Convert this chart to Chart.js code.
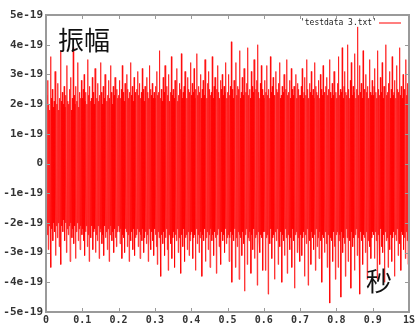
<!DOCTYPE html>
<html>
<head>
<meta charset="utf-8">
<script src="https://cdn.jsdelivr.net/npm/chart.js@4/dist/chart.umd.min.js"></script>
<style>
html, body { margin: 0; padding: 0; background: #fff; overflow: hidden; }
#wrap { position: relative; width: 418px; height: 324px; }
.lbl { position: absolute; font-family: "Noto Sans CJK SC"; font-size: 26px; color: #111; line-height: 1; }
</style>
</head>
<body>
<div id="wrap">
  <canvas id="myChart" width="418" height="324"></canvas>
  <div class="lbl" style="left:58px;top:26px">振幅</div>
  <div class="lbl" style="left:366px;top:267px">秒</div>
</div>
<script>
var seriesName = "'testdata 3.txt'";
var upper = [
  1.9,2.3,2.8,2.0,1.8,3.6,2.2,2.5,1.9,2.1,3.1,2.4,2.0,2.7,1.8,2.2,3.8,2.1,2.4,2.0,
  2.6,1.9,2.3,3.3,2.1,2.0,2.5,2.9,1.8,2.2,3.9,2.3,2.0,2.6,2.1,3.4,1.9,2.4,2.2,2.8,
  2.2,2.5,3.0,2.1,2.4,2.0,3.5,2.3,2.6,2.1,2.2,2.9,2.4,2.0,3.2,2.5,2.2,2.7,2.1,2.3,
  3.4,2.4,2.0,2.6,2.2,3.0,2.5,2.1,2.3,2.8,2.2,3.3,2.4,2.0,2.6,2.3,2.9,2.1,2.5,2.2,
  2.3,2.8,2.2,2.5,3.3,2.4,2.1,2.7,2.3,3.0,2.5,2.2,2.4,3.4,2.3,2.6,2.1,2.9,2.4,2.2,
  2.5,3.1,2.3,2.7,2.2,2.4,3.2,2.5,2.1,2.6,2.3,2.9,2.4,2.2,3.3,2.5,2.3,2.7,2.2,2.4,
  2.2,2.6,3.1,2.3,2.4,3.8,2.2,2.5,2.1,2.9,2.4,3.3,2.2,2.6,2.3,3.0,2.1,2.4,3.6,2.3,
  2.5,2.2,2.8,2.4,3.2,2.1,2.3,2.7,2.5,3.7,2.2,2.4,2.6,3.1,2.3,2.2,2.9,2.5,2.4,3.4,
  2.3,2.7,2.4,3.2,2.2,2.5,3.7,2.3,2.6,2.4,3.0,2.2,2.5,2.8,2.3,3.5,2.4,2.2,2.7,3.1,
  2.5,2.3,2.4,3.6,2.2,2.6,2.9,2.3,2.5,3.3,2.4,2.2,2.8,2.5,3.0,2.3,2.6,2.4,3.4,2.2,
  2.4,3.0,2.3,2.6,4.1,2.5,2.2,2.8,2.4,3.4,2.3,2.6,2.5,3.8,2.2,2.4,2.9,2.3,3.2,2.5,
  2.4,2.7,3.9,2.3,2.5,2.2,3.1,2.6,2.4,3.5,2.3,2.5,2.8,4.0,2.4,2.2,2.7,3.3,2.5,2.3,
  2.2,2.8,2.4,3.3,2.3,2.5,2.2,3.6,2.4,2.6,2.9,2.3,2.2,3.1,2.5,2.4,2.7,3.4,2.2,2.3,
  2.6,2.4,3.0,2.2,2.5,3.5,2.3,2.4,2.8,2.2,3.2,2.5,2.3,2.6,2.4,3.0,2.2,2.7,2.5,2.3,
  2.3,2.6,3.2,2.2,2.4,2.9,2.3,3.5,2.5,2.2,2.7,2.4,3.1,2.3,2.5,2.2,3.4,2.6,2.4,2.3,
  2.8,2.2,3.0,2.5,2.3,3.3,2.4,2.2,2.6,2.9,2.3,2.5,3.5,2.4,2.2,2.7,2.3,3.1,2.5,2.4,
  2.2,2.7,3.6,2.3,2.5,2.4,3.9,2.2,2.6,3.1,2.4,2.3,4.0,2.5,2.2,2.8,3.4,2.3,2.6,2.4,
  3.7,2.2,2.5,4.6,2.3,3.3,2.4,2.7,2.2,3.8,2.5,2.3,3.0,2.4,2.6,2.2,3.5,2.4,2.3,2.8,
  2.3,2.6,3.2,2.4,2.2,3.8,2.5,2.3,2.9,2.4,3.4,2.2,2.6,2.5,4.0,2.3,2.4,2.7,3.1,2.2,
  2.5,3.6,2.3,2.4,2.8,2.2,3.3,2.5,2.4,3.9,2.3,2.6,2.2,3.0,2.5,2.4,3.5,2.3,2.7,2.4
];
var lower = [
  -2.0,-2.4,-2.9,-2.1,-1.9,-3.5,-2.2,-2.6,-2.0,-2.3,-3.1,-2.1,-2.5,-2.0,-2.8,-2.2,-3.4,-2.1,-2.3,-1.9,
  -2.6,-2.0,-3.0,-2.2,-2.4,-2.1,-3.3,-2.0,-2.5,-2.2,-2.7,-2.1,-3.2,-2.3,-2.0,-2.6,-2.2,-2.9,-2.1,-2.4,
  -2.2,-2.6,-3.1,-2.3,-2.1,-2.8,-2.4,-3.3,-2.2,-2.5,-2.1,-2.9,-2.3,-2.2,-3.0,-2.4,-2.6,-2.1,-3.2,-2.3,
  -2.2,-2.7,-2.4,-3.1,-2.1,-2.5,-2.3,-2.9,-2.2,-3.3,-2.4,-2.1,-2.6,-2.3,-3.0,-2.2,-2.5,-2.8,-2.3,-2.1,
  -2.3,-2.7,-2.2,-3.2,-2.4,-2.5,-3.0,-2.2,-2.3,-2.8,-2.4,-3.3,-2.1,-2.6,-2.3,-2.9,-2.2,-3.1,-2.5,-2.4,
  -2.2,-2.8,-2.3,-3.2,-2.4,-2.6,-2.2,-3.0,-2.5,-2.3,-2.7,-2.4,-3.3,-2.2,-2.5,-2.9,-2.3,-2.6,-3.1,-2.2,
  -2.4,-2.8,-3.4,-2.3,-2.5,-2.2,-3.8,-2.4,-2.7,-2.3,-3.1,-2.5,-2.2,-2.9,-3.6,-2.4,-2.3,-2.7,-3.2,-2.5,
  -2.3,-3.5,-2.4,-2.6,-2.2,-3.0,-2.5,-2.3,-3.7,-2.4,-2.8,-2.2,-3.3,-2.5,-2.4,-2.9,-2.3,-3.1,-2.6,-2.4,
  -2.3,-3.2,-2.5,-2.4,-3.6,-2.2,-2.7,-2.4,-3.0,-2.5,-2.3,-3.8,-2.4,-2.6,-2.2,-3.3,-2.5,-2.3,-2.9,-2.4,
  -3.5,-2.2,-2.6,-2.4,-3.1,-2.3,-2.5,-3.7,-2.4,-2.2,-2.8,-2.5,-3.4,-2.3,-2.6,-2.4,-3.0,-2.2,-2.7,-2.5,
  -2.4,-3.3,-2.5,-2.3,-4.0,-2.4,-2.6,-2.2,-3.5,-2.5,-2.8,-2.3,-3.9,-2.4,-2.5,-3.1,-2.3,-2.7,-4.3,-2.4,
  -2.2,-3.4,-2.5,-2.6,-2.3,-3.7,-2.4,-2.9,-2.2,-3.2,-2.5,-2.4,-4.1,-2.3,-2.6,-3.0,-2.4,-2.5,-3.6,-2.3,
  -2.3,-3.6,-2.5,-2.4,-4.4,-2.3,-2.7,-2.2,-3.2,-2.5,-2.4,-3.9,-2.3,-2.6,-2.2,-3.4,-2.5,-2.8,-2.3,-4.0,
  -2.4,-2.6,-3.1,-2.2,-2.5,-3.7,-2.4,-2.3,-2.9,-2.5,-3.5,-2.2,-2.6,-4.2,-2.4,-2.3,-3.0,-2.5,-2.7,-3.3,
  -2.4,-3.1,-2.5,-2.3,-3.8,-2.4,-2.7,-2.2,-4.1,-2.5,-2.6,-3.4,-2.3,-2.5,-2.9,-2.4,-3.6,-2.2,-2.8,-2.5,
  -3.2,-2.3,-2.6,-4.0,-2.4,-2.5,-3.0,-2.3,-2.7,-3.5,-2.4,-2.2,-4.7,-2.5,-2.6,-3.3,-2.3,-2.8,-3.9,-2.4,
  -2.3,-3.5,-2.6,-2.4,-4.5,-2.3,-3.0,-2.5,-2.7,-3.8,-2.2,-2.5,-3.3,-2.4,-2.6,-4.2,-2.3,-2.8,-2.5,-3.6,
  -2.4,-2.2,-3.1,-2.5,-2.7,-4.4,-2.3,-2.6,-3.4,-2.4,-2.5,-3.0,-2.3,-3.9,-2.6,-2.4,-2.8,-3.2,-2.5,-2.3,
  -2.4,-3.2,-2.3,-2.6,-3.9,-2.4,-2.5,-3.4,-2.2,-2.8,-3.0,-2.4,-4.0,-2.3,-2.6,-2.5,-3.5,-2.2,-2.9,-2.4,
  -3.3,-2.5,-2.3,-3.8,-2.4,-2.6,-2.2,-3.1,-2.5,-2.7,-3.6,-2.3,-2.4,-2.9,-2.5,-3.2,-2.3,-2.6,-3.4,-2.4
];
var xTickLabels = ['0','0.1','0.2','0.3','0.4','0.5','0.6','0.7','0.8','0.9','1S'];
var yTickLabels = ['-5e-19','-4e-19','-3e-19','-2e-19','-1e-19','0','1e-19','2e-19','3e-19','4e-19','5e-19'];

// interleave the swings; samples are evenly spaced over 0..1 s
var points = [];
var n = upper.length * 2;
for (var i = 0; i < upper.length; i++) {
    points.push({x: (2 * i) / (n - 1), y: upper[i]});
    points.push({x: (2 * i + 1) / (n - 1), y: lower[i]});
}

// gnuplot style frame, inner tick marks and key
var frame = {
    id: 'frame',
    afterDatasetsDraw: function (chart) {
        var ctx = chart.ctx, a = chart.chartArea, xs = chart.scales.x, ys = chart.scales.y;
        ctx.save();
        ctx.strokeStyle = '#9a9a9a';
        ctx.lineWidth = 1;
        ctx.beginPath();
        xs.ticks.forEach(function (t) {
            var px = Math.round(xs.getPixelForValue(t.value)) + 0.5;
            ctx.moveTo(px, a.bottom); ctx.lineTo(px, a.bottom - 4);
            ctx.moveTo(px, a.top); ctx.lineTo(px, a.top + 4);
        });
        ys.ticks.forEach(function (t) {
            var py = Math.round(ys.getPixelForValue(t.value)) + 0.5;
            ctx.moveTo(a.left, py); ctx.lineTo(a.left + 4, py);
            ctx.moveTo(a.right, py); ctx.lineTo(a.right - 4, py);
        });
        ctx.stroke();
        ctx.lineWidth = 2;
        ctx.strokeRect(a.left, a.top, a.right - a.left, a.bottom - a.top);

        ctx.font = '8px "DejaVu Sans Mono"';
        ctx.fillStyle = '#222';
        ctx.textAlign = 'right';
        ctx.textBaseline = 'middle';
        ctx.fillText(chart.data.datasets[0].label, a.right - 32, a.top + 8);
        ctx.strokeStyle = 'rgba(255,0,0,0.5)';
        ctx.lineWidth = 2;
        ctx.beginPath();
        ctx.moveTo(a.right - 30, a.top + 8);
        ctx.lineTo(a.right - 8, a.top + 8);
        ctx.stroke();
        ctx.restore();
    }
};

var ctx = document.getElementById('myChart');
var chart = new Chart(ctx, {
    type: 'line',
    data: {
        datasets: [{
            label: seriesName,
            data: points,
            borderColor: '#ff0000',
            borderWidth: 0.7,
            pointRadius: 0,
            tension: 0,
            fill: false
        }]
    },
    options: {
        responsive: false,
        animation: false,
        devicePixelRatio: 1,
        layout: {padding: {top: 15, right: 9, left: 0, bottom: 0}},
        plugins: {legend: {display: false}, tooltip: {enabled: false}},
        scales: {
            x: {
                type: 'linear',
                min: 0,
                max: 1,
                grid: {display: false, drawTicks: false},
                border: {display: false},
                ticks: {
                    stepSize: 0.1,
                    autoSkip: false,
                    maxRotation: 0,
                    padding: 2,
                    color: '#333',
                    font: {family: 'DejaVu Sans Mono', size: 10, weight: 'bold'},
                    callback: function (v, i) { return xTickLabels[i]; }
                },
                afterFit: function (s) { s.height = 12; }
            },
            y: {
                min: -5,
                max: 5,
                grid: {display: false, drawTicks: false},
                border: {display: false},
                ticks: {
                    stepSize: 1,
                    padding: 3,
                    color: '#333',
                    font: {family: 'DejaVu Sans Mono', size: 11, weight: 'bold'},
                    callback: function (v, i) { return yTickLabels[i]; }
                },
                afterFit: function (s) { s.width = 46; }
            }
        }
    },
    plugins: [frame]
});
</script>
</body>
</html>
